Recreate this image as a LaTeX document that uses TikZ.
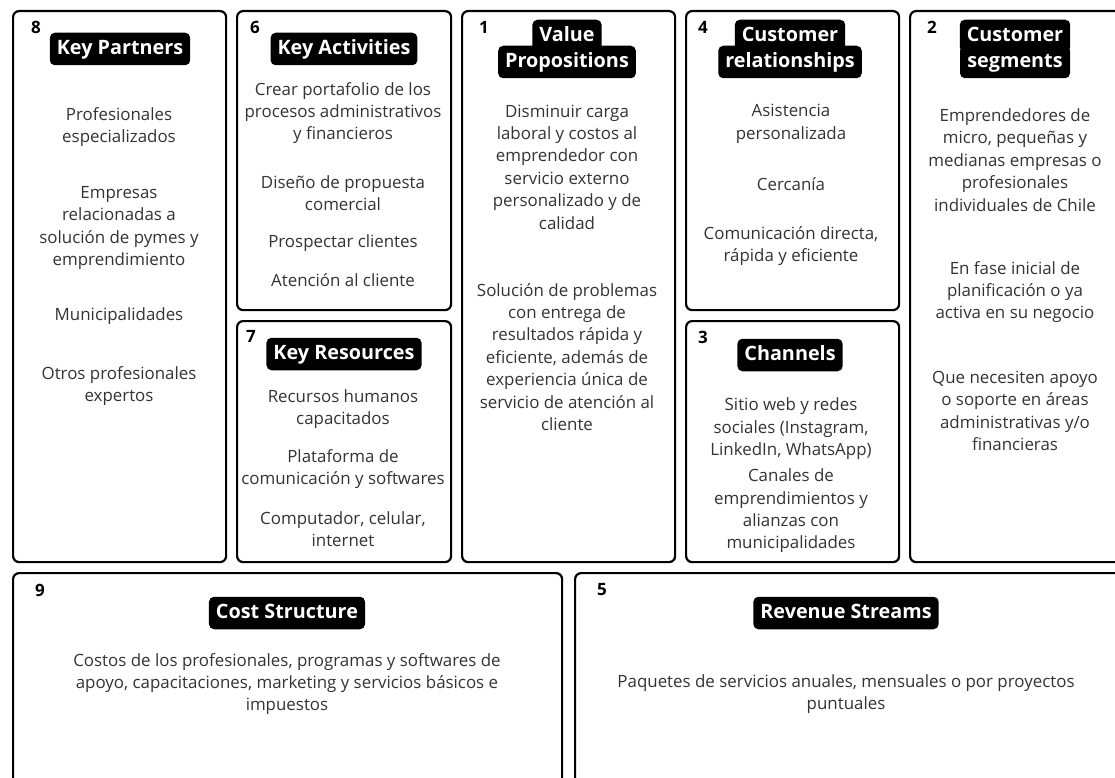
\documentclass[tikz,border=0pt]{standalone}
\usepackage{fontspec}
\setmainfont{Open Sans}
\begin{document}
\begin{tikzpicture}[x=1pt,y=-1pt,
  cell/.style={draw=black, line width=2.2pt, rounded corners=6pt, anchor=north west, inner sep=0pt},
  ttl/.style={fill=black, text=white, font=\fontsize{19.8}{25}\selectfont\bfseries, rounded corners=5pt,
    inner xsep=7pt, inner ysep=7pt, text height=14.5pt, text depth=4pt},
  num/.style={font=\fontsize{17}{18}\selectfont\bfseries, text=black, inner sep=0pt},
  body/.style={font=\fontsize{16.9}{22.4}\selectfont, text=black!80, align=center, inner sep=0pt}]
\useasboundingbox (0,0) rectangle (1115,778);
\clip (0,0) rectangle (1115,778);
% cells
\node[cell, minimum width=213pt, minimum height=551pt] (kp) at (12,10) {};
\node[cell, minimum width=214pt, minimum height=299pt] (ka) at (236,10) {};
\node[cell, minimum width=214pt, minimum height=241pt] (kr) at (236,320) {};
\node[cell, minimum width=213pt, minimum height=551pt] (vp) at (461,10) {};
\node[cell, minimum width=213pt, minimum height=299pt] (cr) at (685,10) {};
\node[cell, minimum width=213pt, minimum height=241pt] (ch) at (685,320) {};
\node[cell, minimum width=213pt, minimum height=551pt] (cs) at (909,10) {};
\node[cell, minimum width=549pt, minimum height=230pt] (cost) at (12,572) {};
\node[cell, minimum width=549pt, minimum height=230pt] (rev) at (574,572) {};
% numbers
\node[num] (n8) at (36,27) {8};
\node[num] (n6) at (255,27) {6};
\node[num] (n7) at (251,336) {7};
\node[num] (n1) at (484,27) {1};
\node[num] (n4) at (703,27) {4};
\node[num] (n3) at (703,337) {3};
\node[num] (n2) at (932,27) {2};
\node[num] (n9) at (40,590) {9};
\node[num] (n5) at (602,590) {5};
% titles
\node[ttl] (t8) at (120,49) {Key Partners};
\node[ttl] (t6) at (344,49) {Key Activities};
\node[ttl] (t7) at (344,354) {Key Resources};
\node[ttl] (t1a) at (567,36) {Value};
\node[ttl] (t1b) at (567,62) {Propositions};
\node[ttl] (t4a) at (790,36) {Customer};
\node[ttl] (t4b) at (790,62) {relationships};
\node[ttl, minimum width=110pt] (t2a) at (1015,36) {Customer};
\node[ttl, minimum width=110pt] (t2b) at (1015,62) {segments};
\node[ttl] (t3) at (790,355) {Channels};
\node[ttl] (t9) at (287,613) {Cost Structure};
\node[ttl] (t5) at (846,613) {Revenue Streams};
% Key Partners
\node[body] (kp1) at (119,127) {Profesionales\\especializados};
\node[body] (kp2) at (119,228) {Empresas\\relacionadas a\\solución de pymes y\\emprendimiento};
\node[body] (kp3) at (119,316) {Municipalidades};
\node[body] (kp4) at (119,386) {Otros profesionales\\expertos};
% Key Activities
\node[body] (ka1) at (343,113) {Crear portafolio de los\\procesos administrativos\\y financieros};
\node[body] (ka2) at (343,193) {Diseño de propuesta\\comercial};
\node[body] (ka3) at (343,243) {Prospectar clientes};
\node[body] (ka4) at (343,280) {Atención al cliente};
% Key Resources
\node[body] (kr1) at (343,409) {Recursos humanos\\capacitados};
\node[body] (kr2) at (343,469) {Plataforma de\\comunicación y softwares};
\node[body] (kr3) at (343,529) {Computador, celular,\\internet};
% Value Propositions
\node[body] (vp1) at (567,167) {Disminuir carga\\laboral y costos al\\emprendedor con\\servicio externo\\personalizado y de\\calidad};
\node[body] (vp2) at (567,357) {Solución de problemas\\con entrega de\\resultados rápida y\\eficiente, además de\\experiencia única de\\servicio de atención al\\cliente};
% Customer relationships
\node[body] (cr1) at (791,124) {Asistencia\\personalizada};
\node[body] (cr2) at (791,184) {Cercanía};
\node[body] (cr3) at (791,246) {Comunicación directa,\\rápida y eficiente};
% Channels
\node[body] (ch1) at (791,429) {Sitio web y redes\\sociales (Instagram,\\LinkedIn, WhatsApp)};
\node[body] (ch2) at (791,511) {Canales de\\emprendimientos y\\alianzas con\\municipalidades};
% Customer segments
\node[body] (cs1) at (1015,160) {Emprendedores de\\micro, pequeñas y\\medianas empresas o\\profesionales\\individuales de Chile};
\node[body] (cs2) at (1015,292) {En fase inicial de\\planificación o ya\\activa en su negocio};
\node[body] (cs3) at (1015,411) {Que necesiten apoyo\\o soporte en áreas\\administrativas y/o\\financieras};
% Cost / Revenue
\node[body] (c1) at (287,684) {Costos de los profesionales, programas y softwares de\\apoyo, capacitaciones, marketing y servicios básicos e\\impuestos};
\node[body] (r1) at (846,694) {Paquetes de servicios anuales, mensuales o por proyectos\\puntuales};
\end{tikzpicture}
\end{document}
